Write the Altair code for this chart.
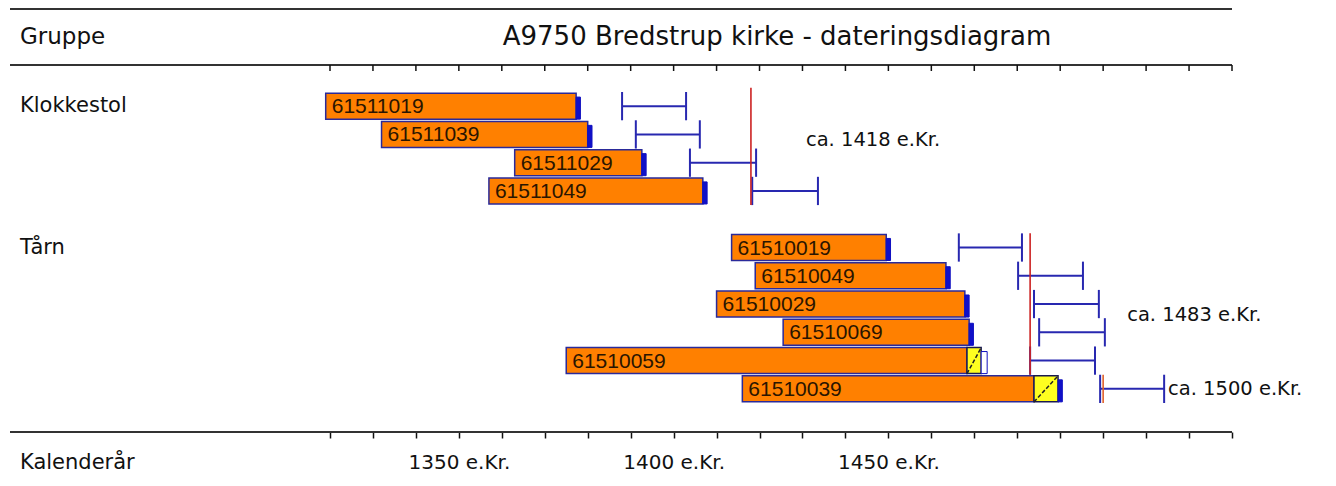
import altair as alt
import pandas as pd

# ---------------- data ----------------
sample_ids = ["61511019", "61511039", "61511029", "61511049",
              "61510019", "61510049", "61510029", "61510069", "61510059", "61510039"]
slots = [0, 1, 2, 3, 5, 6, 7, 8, 9, 10]
heart_start = [1319, 1332, 1363, 1357, 1413.5, 1419, 1410, 1425.5, 1375, 1416]
heart_end = [1377.3, 1380, 1392.6, 1406.8, 1449.5, 1463.4, 1467.8, 1468.8, 1468.3, 1483.9]
sap_end = [1377.3, 1380, 1392.6, 1406.8, 1449.5, 1463.4, 1467.8, 1468.8, 1471.6, 1489.5]
bark_end = [1378.3, 1381, 1393.6, 1407.8, 1450.5, 1464.4, 1468.8, 1469.8, 1473.0, 1490.5]
bark_filled = [True, True, True, True, True, True, True, True, False, True]
fell_lo = [1388, 1391.2, 1403.8, 1418.3, 1466.4, 1480.2, 1483.9, 1485.1, 1483.0, 1499.3]
fell_hi = [1402.9, 1406.1, 1419.2, 1433.6, 1481.1, 1495.3, 1499.0, 1500.4, 1498.1, 1514.2]

group_names = ["Klokkestol", "Tårn"]
group_slots = [0, 5]

date_years = [1418, 1483, 1500]
date_slot_top = [-0.65, 4.5, 9.5]
date_slot_bot = [3.5, 9.5, 10.5]
date_colors = ["#cc2222", "#cc2222", "#e0602a"]
date_texts = ["ca. 1418 e.Kr.", "ca. 1483 e.Kr.", "ca. 1500 e.Kr."]
date_text_x = [1430.8, 1505.6, 1515.1]
date_text_slot = [1.2, 7.4, 10.0]

tick_years = list(range(1320, 1531, 10))
labelled_years = [1350, 1400, 1450]

title_text = "A9750 Bredstrup kirke - dateringsdiagram"

# ---------------- tables ----------------
HALF = 0.46
rows = pd.DataFrame({
    "id": sample_ids, "slot": slots,
    "hs": heart_start, "he": heart_end, "se": sap_end, "be": bark_end,
    "filled": bark_filled, "lo": fell_lo, "hi": fell_hi,
})
rows["top"] = rows["slot"] - HALF
rows["bot"] = rows["slot"] + HALF
rows["ctop"] = rows["slot"] - 0.32
rows["etop"] = rows["slot"] - 0.5
rows["ebot"] = rows["slot"] + 0.5
sap = rows[rows["se"] > rows["he"]]

groups = pd.DataFrame({"name": group_names, "slot": group_slots})
dates = pd.DataFrame({"year": date_years, "t": date_slot_top, "b": date_slot_bot,
                      "c": date_colors})
dtexts = pd.DataFrame({"txt": date_texts, "x": date_text_x, "slot": date_text_slot})
ticks = pd.DataFrame({"year": tick_years})
one = pd.DataFrame({"a": [0]})

FONT = "DejaVu Sans"
BARFONT = "Liberation Sans"

xscale = alt.Scale(domain=[1320, 1530], range=[322, 1224], nice=False, zero=False)
label_test = " || ".join(f"datum.value == {y}" for y in labelled_years)
xaxis = alt.Axis(values=tick_years, domain=False, grid=False, tickSize=6,
                 tickColor="#111111", tickWidth=1.5, labelFont=FONT, labelFontSize=20,
                 labelColor="#111111", labelPadding=14, title=None,
                 labelExpr=f"({label_test}) ? datum.value + ' e.Kr.' : ''")
yscale = alt.Scale(domain=[-0.5, 10.5], range=[84, 395], nice=False, zero=False)


def X(f):
    return alt.X(f, type="quantitative", scale=xscale, axis=xaxis)


def Y(f):
    return alt.Y(f, type="quantitative", scale=yscale, axis=None)


LINE = "#333333"
BLUE = "#2828b0"

hlines = [
    alt.Chart(one).mark_rule(color=LINE, strokeWidth=2).encode(
        x=alt.value(2), x2=alt.value(1224), y=alt.value(y))
    for y in (1, 57, 424)
]

top_ticks = alt.Chart(ticks).mark_rule(color="#111111", strokeWidth=1.5).encode(
    x=X("year"), y=alt.value(57), y2=alt.value(63))

heart = alt.Chart(rows).mark_rect(fill="#ff8000", stroke="#2a2a9a", strokeWidth=1.5).encode(
    x=X("hs"), x2="he", y=Y("top"), y2="bot")

sapr = alt.Chart(sap).mark_rect(fill="#ffff20", stroke="#1a1a50", strokeWidth=1.5).encode(
    x=X("he"), x2="se", y=Y("top"), y2="bot")

hatch = alt.Chart(sap).mark_rule(color="#222222", strokeWidth=1.5, strokeDash=[4, 2]).encode(
    x=X("he"), x2="se", y=Y("bot"), y2="top")

bark = alt.Chart(rows).mark_rect(stroke="#1010c0", strokeWidth=1).encode(
    x=X("se"), x2="be", y=Y("ctop"), y2="bot",
    fill=alt.condition("datum.filled", alt.value("#1010c8"), alt.value("#ffffff")))

bar_text = alt.Chart(rows).mark_text(align="left", baseline="middle", dx=6, dy=1,
                                     font=BARFONT, fontSize=21, color="#2a1500").encode(
    x=X("hs"), y=Y("slot"), text="id")

err_h = alt.Chart(rows).mark_rule(color=BLUE, strokeWidth=2).encode(
    x=X("lo"), x2="hi", y=Y("slot"))
err_l = alt.Chart(rows).mark_rule(color=BLUE, strokeWidth=2).encode(
    x=X("lo"), y=Y("etop"), y2="ebot")
err_r = alt.Chart(rows).mark_rule(color=BLUE, strokeWidth=2).encode(
    x=X("hi"), y=Y("etop"), y2="ebot")

dlines = alt.Chart(dates).mark_rule(strokeWidth=1.6).encode(
    x=X("year"), y=Y("t"), y2="b", color=alt.Color("c:N", scale=None))

dlabels = alt.Chart(dtexts).mark_text(align="left", baseline="middle", font=FONT,
                                      fontSize=19.5, color="#111111").encode(
    x=X("x"), y=Y("slot"), text="txt")

glabels = alt.Chart(groups).mark_text(align="left", baseline="middle", font=FONT,
                                      fontSize=21, color="#111111").encode(
    x=alt.value(12), y=Y("slot"), text="name")

hdr_left = alt.Chart(one).mark_text(align="left", baseline="middle", font=FONT,
                                    fontSize=23, color="#111111").encode(
    x=alt.value(12), y=alt.value(29), text=alt.value("Gruppe"))
hdr_title = alt.Chart(one).mark_text(align="center", baseline="middle", font=FONT,
                                     fontSize=26, color="#111111").encode(
    x=alt.value(769), y=alt.value(29), text=alt.value(title_text))
foot = alt.Chart(one).mark_text(align="left", baseline="middle", font=FONT,
                                fontSize=21, color="#111111").encode(
    x=alt.value(12), y=alt.value(455), text=alt.value("Kalenderår"))

chart = alt.layer(
    *hlines, top_ticks, err_h, err_l, err_r, dlines,
    heart, sapr, hatch, bark, bar_text, dlabels, glabels,
    hdr_left, hdr_title, foot,
).properties(
    width=1320, height=424, autosize=alt.AutoSizeParams(type="none"),
    padding={"left": 0, "top": 0, "right": 0, "bottom": 46}, background="white",
).configure_view(stroke=None)

chart.save("out.html", embed_options={"renderer": "svg", "actions": False})
